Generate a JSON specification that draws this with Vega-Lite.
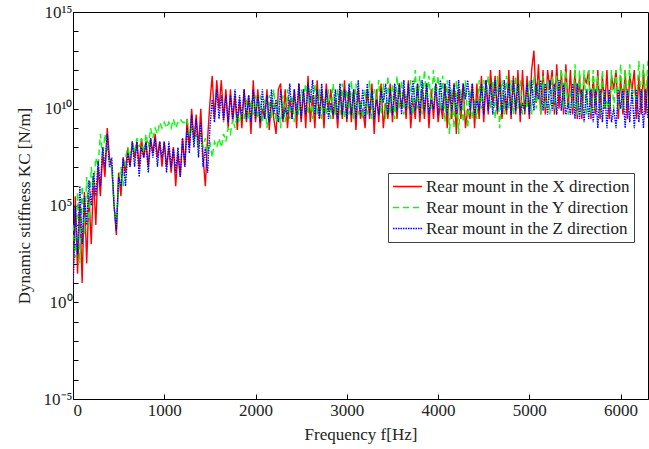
{
"$schema":"https://vega.github.io/schema/vega-lite/v6.json",
"width":575,"height":387,
"autosize":{"type":"none"},
"padding":{"left":73,"top":12,"right":1,"bottom":50},
"background":"white",
"config":{"view":{"stroke":"black","strokeWidth":1},"font":"Liberation Serif",
"axis":{"labelFont":"Liberation Serif","titleFont":"Liberation Serif","labelFontSize":17,"titleFontSize":17,"titleFontWeight":"normal","labelColor":"#222","titleColor":"#222","domainColor":"black","tickColor":"black","grid":false}},
"datasets":{"k":[
{"f":0,"X":1e1,"Y":1e4,"Z":3e0},{"f":25,"X":3e5,"Y":2e2,"Z":1e5},{"f":50,"X":3e1,"Y":5e5,"Z":3e2},{"f":75,"X":1e5,"Y":1e2,"Z":1e6},{"f":100,"X":1e1,"Y":1e6,"Z":1e3},{"f":125,"X":5e5,"Y":3e3,"Z":3e5},{"f":150,"X":1e2,"Y":3e6,"Z":1e4},{"f":175,"X":3e5,"Y":1e4,"Z":2e6},{"f":200,"X":1e3,"Y":1e7,"Z":1e5},{"f":225,"X":3e6,"Y":1e6,"Z":5e6},{"f":250,"X":1e4,"Y":3e7,"Z":3e5},{"f":275,"X":1e7,"Y":1e7,"Z":2e7},{"f":300,"X":3e5,"Y":5e8,"Z":1e6},{"f":325,"X":5e7,"Y":3e7,"Z":1e8},{"f":350,"X":3e6,"Y":5e8,"Z":1e7},{"f":375,"X":1e9,"Y":1e8,"Z":5e8},{"f":400,"X":3e7,"Y":1e7,"Z":1e7},{"f":425,"X":1e7,"Y":1e7,"Z":3e7},{"f":450,"X":1e5,"Y":1e5,"Z":1e5},{"f":475,"X":3e3,"Y":1e4,"Z":5e3},
{"f":500,"X":5e6,"Y":1e6,"Z":3e6},{"f":525,"X":3e5,"Y":1e7,"Z":1e6},{"f":550,"X":3e7,"Y":1e6,"Z":3e7},{"f":575,"X":5e6,"Y":3e7,"Z":1e6},{"f":600,"X":1e8,"Y":1e8,"Z":5e7},{"f":625,"X":1e7,"Y":3e7,"Z":1e7},{"f":650,"X":2e8,"Y":2e8,"Z":2e8},{"f":675,"X":3e7,"Y":5e7,"Z":1e7},{"f":700,"X":2e8,"Y":3e8,"Z":2e8},{"f":725,"X":1e7,"Y":1e8,"Z":3e6},{"f":750,"X":3e8,"Y":3e8,"Z":1e8},{"f":775,"X":3e7,"Y":5e7,"Z":3e7},{"f":800,"X":2e8,"Y":5e8,"Z":2e8},{"f":825,"X":1e7,"Y":1e8,"Z":5e6},{"f":850,"X":3e8,"Y":1e9,"Z":3e8},{"f":875,"X":5e7,"Y":3e8,"Z":3e7},{"f":900,"X":5e8,"Y":1e9,"Z":3e8},{"f":925,"X":3e7,"Y":5e8,"Z":1e7},{"f":950,"X":2e8,"Y":2e9,"Z":2e8},{"f":975,"X":1e7,"Y":1e9,"Z":3e7},
{"f":1000,"X":2e8,"Y":2e9,"Z":2e8},{"f":1025,"X":1e7,"Y":1e9,"Z":5e6},{"f":1050,"X":1e8,"Y":2e9,"Z":2e8},{"f":1075,"X":5e6,"Y":1e9,"Z":1e7},{"f":1100,"X":1e8,"Y":3e9,"Z":1e8},{"f":1125,"X":1e6,"Y":1e9,"Z":5e6},{"f":1150,"X":5e7,"Y":2e9,"Z":1e8},{"f":1175,"X":3e6,"Y":3e9,"Z":3e6},{"f":1200,"X":3e8,"Y":2e9,"Z":3e8},{"f":1225,"X":1e7,"Y":2e9,"Z":1e7},{"f":1250,"X":3e9,"Y":3e9,"Z":1e9},{"f":1275,"X":1e8,"Y":5e8,"Z":5e7},{"f":1300,"X":1e10,"Y":1e9,"Z":5e9},{"f":1325,"X":2e8,"Y":2e8,"Z":1e8},{"f":1350,"X":5e9,"Y":5e8,"Z":3e9},{"f":1375,"X":1e8,"Y":1e8,"Z":3e7},{"f":1400,"X":1e10,"Y":5e8,"Z":2e9},{"f":1425,"X":3e7,"Y":1e8,"Z":1e7},{"f":1450,"X":1e6,"Y":3e8,"Z":1e8},{"f":1475,"X":3e8,"Y":5e7,"Z":5e6},
{"f":1500,"X":2e10,"Y":2e8,"Z":1e9},{"f":1525,"X":5e11,"Y":3e7,"Z":3e10},{"f":1550,"X":3e9,"Y":2e8,"Z":2e9},{"f":1575,"X":3e11,"Y":1e8,"Z":1e11},{"f":1600,"X":1e10,"Y":3e8,"Z":3e9},{"f":1625,"X":3e11,"Y":1e8,"Z":5e10},{"f":1650,"X":3e9,"Y":5e8,"Z":2e9},{"f":1675,"X":1e11,"Y":2e8,"Z":5e10},{"f":1700,"X":1e9,"Y":1e9,"Z":2e9},{"f":1725,"X":1e11,"Y":5e8,"Z":5e10},{"f":1750,"X":2e9,"Y":3e9,"Z":3e9},{"f":1775,"X":5e10,"Y":1e9,"Z":1e11},{"f":1800,"X":8e8,"Y":5e9,"Z":2e9},{"f":1825,"X":3e10,"Y":2e9,"Z":5e10},{"f":1850,"X":1e9,"Y":1e10,"Z":3e9},{"f":1875,"X":1e11,"Y":3e9,"Z":1e11},{"f":1900,"X":2e9,"Y":3e10,"Z":3e9},{"f":1925,"X":5e10,"Y":3e9,"Z":5e10},{"f":1950,"X":5e8,"Y":3e10,"Z":2e9},{"f":1975,"X":3e11,"Y":5e9,"Z":1e11},
{"f":2000,"X":2e9,"Y":5e10,"Z":3e9},{"f":2025,"X":1e11,"Y":3e9,"Z":5e10},{"f":2050,"X":1e9,"Y":5e10,"Z":2e9},{"f":2075,"X":1e10,"Y":2e9,"Z":1e11},{"f":2100,"X":3e9,"Y":3e10,"Z":3e9},{"f":2125,"X":1e11,"Y":1e9,"Z":5e10},{"f":2150,"X":8e8,"Y":5e10,"Z":2e9},{"f":2175,"X":3e10,"Y":3e9,"Z":1e11},{"f":2200,"X":3e9,"Y":1e11,"Z":5e9},{"f":2225,"X":5e8,"Y":2e9,"Z":3e10},{"f":2250,"X":1e11,"Y":3e10,"Z":2e9},{"f":2275,"X":2e11,"Y":1e9,"Z":1e11},{"f":2300,"X":2e9,"Y":5e10,"Z":3e9},{"f":2325,"X":1e11,"Y":2e9,"Z":1e10},{"f":2350,"X":1e9,"Y":1e11,"Z":5e9},{"f":2375,"X":3e10,"Y":3e9,"Z":2e11},{"f":2400,"X":3e9,"Y":5e10,"Z":3e9},{"f":2425,"X":1e11,"Y":2e9,"Z":1e11},{"f":2450,"X":1e9,"Y":2e10,"Z":5e9},{"f":2475,"X":2e11,"Y":5e9,"Z":2e11},
{"f":2500,"X":2e9,"Y":1e11,"Z":3e9},{"f":2525,"X":1e11,"Y":3e10,"Z":1e11},{"f":2550,"X":1e9,"Y":2e11,"Z":5e9},{"f":2575,"X":5e11,"Y":5e9,"Z":2e11},{"f":2600,"X":2e9,"Y":1e11,"Z":2e10},{"f":2625,"X":5e10,"Y":3e9,"Z":3e11},{"f":2650,"X":1e9,"Y":2e11,"Z":5e9},{"f":2675,"X":3e11,"Y":5e9,"Z":1e11},{"f":2700,"X":3e9,"Y":1e11,"Z":3e9},{"f":2725,"X":1e11,"Y":3e9,"Z":2e11},{"f":2750,"X":1e9,"Y":3e10,"Z":5e9},{"f":2775,"X":2e11,"Y":5e9,"Z":1e11},{"f":2800,"X":8e9,"Y":1e11,"Z":3e9},{"f":2825,"X":1e11,"Y":3e9,"Z":2e10},{"f":2850,"X":3e9,"Y":2e11,"Z":5e9},{"f":2875,"X":3e10,"Y":5e9,"Z":1e11},{"f":2900,"X":1e9,"Y":1e11,"Z":3e9},{"f":2925,"X":1e11,"Y":5e9,"Z":2e11},{"f":2950,"X":3e9,"Y":2e11,"Z":5e9},{"f":2975,"X":3e11,"Y":3e9,"Z":1e11},
{"f":3000,"X":2e9,"Y":1e11,"Z":3e9},{"f":3025,"X":1e11,"Y":5e9,"Z":2e11},{"f":3050,"X":2e9,"Y":3e11,"Z":5e9},{"f":3075,"X":1e11,"Y":3e9,"Z":1e11},{"f":3100,"X":8e8,"Y":2e11,"Z":3e9},{"f":3125,"X":1e11,"Y":5e9,"Z":3e11},{"f":3150,"X":3e9,"Y":3e10,"Z":5e9},{"f":3175,"X":1e10,"Y":3e9,"Z":1e11},{"f":3200,"X":1e9,"Y":1e11,"Z":3e9},{"f":3225,"X":1e11,"Y":5e9,"Z":2e11},{"f":3250,"X":3e9,"Y":3e11,"Z":5e9},{"f":3275,"X":2e11,"Y":3e9,"Z":1e11},{"f":3300,"X":5e8,"Y":1e11,"Z":3e9},{"f":3325,"X":1e11,"Y":3e10,"Z":3e10},{"f":3350,"X":2e9,"Y":3e11,"Z":5e9},{"f":3375,"X":2e11,"Y":5e9,"Z":1e11},{"f":3400,"X":1e9,"Y":2e11,"Z":2e10},{"f":3425,"X":2e10,"Y":3e9,"Z":2e11},{"f":3450,"X":3e9,"Y":5e11,"Z":5e9},{"f":3475,"X":2e11,"Y":5e9,"Z":1e11},
{"f":3500,"X":2e9,"Y":2e11,"Z":5e9},{"f":3525,"X":1e11,"Y":3e9,"Z":2e11},{"f":3550,"X":3e9,"Y":5e11,"Z":8e9},{"f":3575,"X":2e11,"Y":1e10,"Z":2e11},{"f":3600,"X":1e10,"Y":3e11,"Z":5e9},{"f":3625,"X":1e11,"Y":5e9,"Z":3e11},{"f":3650,"X":3e9,"Y":5e10,"Z":8e9},{"f":3675,"X":3e11,"Y":1e10,"Z":2e11},{"f":3700,"X":1e9,"Y":3e11,"Z":5e9},{"f":3725,"X":3e10,"Y":5e9,"Z":3e11},{"f":3750,"X":3e9,"Y":1e12,"Z":8e9},{"f":3775,"X":2e11,"Y":1e10,"Z":2e11},{"f":3800,"X":2e9,"Y":5e11,"Z":5e9},{"f":3825,"X":1e11,"Y":5e9,"Z":3e11},{"f":3850,"X":3e9,"Y":1e12,"Z":8e9},{"f":3875,"X":2e11,"Y":3e10,"Z":2e11},{"f":3900,"X":1e9,"Y":5e11,"Z":5e9},{"f":3925,"X":1e11,"Y":1e10,"Z":3e10},{"f":3950,"X":3e9,"Y":1e12,"Z":1e10},{"f":3975,"X":2e11,"Y":3e10,"Z":2e11},
{"f":4000,"X":2e9,"Y":5e11,"Z":5e9},{"f":4025,"X":2e10,"Y":1e10,"Z":3e11},{"f":4050,"X":3e9,"Y":5e11,"Z":8e9},{"f":4075,"X":2e11,"Y":2e9,"Z":2e11},{"f":4100,"X":1e9,"Y":3e11,"Z":5e9},{"f":4125,"X":1e11,"Y":5e8,"Z":3e11},{"f":4150,"X":3e9,"Y":1e11,"Z":8e9},{"f":4175,"X":2e11,"Y":1e9,"Z":2e11},{"f":4200,"X":5e8,"Y":3e11,"Z":5e9},{"f":4225,"X":1e11,"Y":5e8,"Z":3e11},{"f":4250,"X":3e9,"Y":1e11,"Z":8e9},{"f":4275,"X":2e11,"Y":2e9,"Z":2e11},{"f":4300,"X":1e9,"Y":3e11,"Z":3e10},{"f":4325,"X":1e10,"Y":1e9,"Z":3e11},{"f":4350,"X":3e9,"Y":1e11,"Z":8e9},{"f":4375,"X":2e11,"Y":3e9,"Z":2e11},{"f":4400,"X":1e9,"Y":3e10,"Z":5e9},{"f":4425,"X":2e11,"Y":3e9,"Z":3e10},{"f":4450,"X":3e9,"Y":3e11,"Z":8e9},{"f":4475,"X":5e11,"Y":1e10,"Z":2e11},
{"f":4500,"X":2e9,"Y":3e11,"Z":5e9},{"f":4525,"X":3e11,"Y":5e10,"Z":3e11},{"f":4550,"X":5e9,"Y":5e11,"Z":8e9},{"f":4575,"X":1e12,"Y":1e10,"Z":2e11},{"f":4600,"X":2e10,"Y":3e11,"Z":5e9},{"f":4625,"X":5e11,"Y":3e9,"Z":3e11},{"f":4650,"X":5e9,"Y":5e11,"Z":8e9},{"f":4675,"X":1e12,"Y":1e9,"Z":2e11},{"f":4700,"X":3e9,"Y":3e11,"Z":5e9},{"f":4725,"X":5e10,"Y":5e9,"Z":3e11},{"f":4750,"X":5e9,"Y":5e11,"Z":8e9},{"f":4775,"X":1e12,"Y":1e10,"Z":2e11},{"f":4800,"X":3e9,"Y":3e11,"Z":5e9},{"f":4825,"X":5e11,"Y":5e9,"Z":3e11},{"f":4850,"X":5e9,"Y":5e11,"Z":8e9},{"f":4875,"X":1e12,"Y":1e10,"Z":2e11},{"f":4900,"X":2e9,"Y":3e11,"Z":5e9},{"f":4925,"X":1e12,"Y":5e9,"Z":2e10},{"f":4950,"X":5e9,"Y":5e10,"Z":8e9},{"f":4975,"X":5e11,"Y":1e10,"Z":2e11},
{"f":5000,"X":3e9,"Y":3e11,"Z":5e9},{"f":5025,"X":1e12,"Y":5e9,"Z":3e11},{"f":5050,"X":1e13,"Y":5e11,"Z":8e9},{"f":5075,"X":2e10,"Y":1e10,"Z":2e11},{"f":5100,"X":2e12,"Y":3e11,"Z":3e10},{"f":5125,"X":5e9,"Y":5e9,"Z":3e11},{"f":5150,"X":1e12,"Y":5e11,"Z":8e9},{"f":5175,"X":5e9,"Y":1e10,"Z":2e11},{"f":5200,"X":1e12,"Y":3e11,"Z":5e9},{"f":5225,"X":1e11,"Y":5e9,"Z":3e11},{"f":5250,"X":1e12,"Y":5e11,"Z":8e9},{"f":5275,"X":5e9,"Y":1e10,"Z":2e11},{"f":5300,"X":2e12,"Y":5e11,"Z":5e9},{"f":5325,"X":1e10,"Y":5e10,"Z":3e11},{"f":5350,"X":1e12,"Y":1e12,"Z":8e9},{"f":5375,"X":5e9,"Y":1e10,"Z":2e11},{"f":5400,"X":2e12,"Y":1e12,"Z":5e9},{"f":5425,"X":1e10,"Y":5e9,"Z":2e10},{"f":5450,"X":1e12,"Y":1e11,"Z":5e9},{"f":5475,"X":5e9,"Y":1e10,"Z":2e11},
{"f":5500,"X":1e12,"Y":2e12,"Z":3e9},{"f":5525,"X":3e9,"Y":5e9,"Z":2e11},{"f":5550,"X":5e11,"Y":1e12,"Z":3e9},{"f":5575,"X":3e9,"Y":5e9,"Z":1e11},{"f":5600,"X":5e11,"Y":1e12,"Z":2e9},{"f":5625,"X":2e11,"Y":5e9,"Z":1e11},{"f":5650,"X":1e12,"Y":1e12,"Z":3e9},{"f":5675,"X":3e9,"Y":5e9,"Z":1e11},{"f":5700,"X":5e11,"Y":1e12,"Z":2e9},{"f":5725,"X":5e9,"Y":1e10,"Z":1e11},{"f":5750,"X":1e12,"Y":5e11,"Z":1e9},{"f":5775,"X":3e9,"Y":5e9,"Z":1e11},{"f":5800,"X":5e11,"Y":1e12,"Z":2e9},{"f":5825,"X":1e10,"Y":1e10,"Z":1e11},{"f":5850,"X":1e12,"Y":3e10,"Z":1e9},{"f":5875,"X":3e9,"Y":1e10,"Z":1e11},{"f":5900,"X":5e11,"Y":1e12,"Z":2e9},{"f":5925,"X":1e11,"Y":1e10,"Z":1e10},{"f":5950,"X":1e12,"Y":1e12,"Z":1e9},{"f":5975,"X":3e9,"Y":1e10,"Z":1e11},
{"f":6000,"X":5e11,"Y":2e12,"Z":1e10},{"f":6025,"X":5e9,"Y":1e10,"Z":1e11},{"f":6050,"X":1e12,"Y":1e12,"Z":1e9},{"f":6075,"X":3e9,"Y":2e10,"Z":1e11},{"f":6100,"X":5e11,"Y":2e12,"Z":2e9},{"f":6125,"X":1e11,"Y":2e10,"Z":1e11},{"f":6150,"X":1e12,"Y":1e11,"Z":1e9},{"f":6175,"X":3e9,"Y":2e10,"Z":1e11},{"f":6200,"X":5e11,"Y":3e12,"Z":2e9},{"f":6225,"X":5e9,"Y":2e10,"Z":1e11},{"f":6250,"X":1e12,"Y":2e12,"Z":1e9},{"f":6275,"X":5e9,"Y":3e10,"Z":1e11},{"f":6300,"X":5e11,"Y":3e12,"Z":3e9}
]},
"layer":[
{"data":{"name":"k"},
"transform":[{"fold":["X","Y","Z"],"as":["dir","K"]}],
"mark":{"type":"line","clip":true,"strokeWidth":1.4},
"encoding":{
"x":{"field":"f","type":"quantitative","scale":{"domain":[0,6300],"nice":false,"zero":false},
"axis":{"orient":"bottom","values":[0,1000,2000,3000,4000,5000,6000],"format":"d","title":"Frequency f[Hz]","tickSize":-5,"labelPadding":8,"titlePadding":8,"labelFont":"Liberation Serif","titleFont":"Liberation Serif"}},
"y":{"field":"K","type":"quantitative","scale":{"type":"log","domain":[1e-5,1e15],"nice":false},
"axis":{"values":[1e-5,1e-4,1e-3,1e-2,1e-1,1,10,100,1000,1e4,1e5,1e6,1e7,1e8,1e9,1e10,1e11,1e12,1e13,1e14,1e15],
"labelExpr":"round(log(datum.value)/LN10)==15?'10¹⁵':round(log(datum.value)/LN10)==10?'10¹⁰':round(log(datum.value)/LN10)==5?'10⁵':round(log(datum.value)/LN10)==0?'10⁰':round(log(datum.value)/LN10)==-5?'10⁻⁵':''",
"tickSize":-5,"labelPadding":6,"title":"Dynamic stiffness KC [N/m]","titlePadding":10,"labelFont":"Liberation Serif","titleFont":"Liberation Serif"}},
"color":{"field":"dir","type":"nominal","scale":{"domain":["X","Y","Z"],"range":["#ff0000","#00ff00","#0000ff"]},
"legend":{"title":null,"orient":"none","legendX":315,"legendY":161,"labelExpr":"'Rear mount in the ' + datum.label + ' direction'","labelLimit":0,"clipHeight":19,"symbolType":"stroke","symbolSize":841,"symbolStrokeWidth":1.5,"labelFont":"Liberation Serif","labelFontSize":17,"labelColor":"#222","strokeColor":"#444","fillColor":"white","padding":4,"rowPadding":2,"labelOffset":3}},
"strokeDash":{"field":"dir","type":"nominal","scale":{"domain":["X","Y","Z"],"range":[[1,0],[6,4],[1.5,1]]},
"legend":{"title":null,"orient":"none","legendX":315,"legendY":161,"labelExpr":"'Rear mount in the ' + datum.label + ' direction'","labelLimit":0,"clipHeight":19,"symbolType":"stroke","symbolSize":841,"symbolStrokeWidth":1.5,"labelFont":"Liberation Serif","labelFontSize":17,"labelColor":"#222","strokeColor":"#444","fillColor":"white","padding":4,"rowPadding":2,"labelOffset":3}}
}},
{"data":{"values":[{"f":0},{"f":6300}]},
"mark":{"type":"point","opacity":0},
"encoding":{"x":{"field":"f","type":"quantitative","axis":{"orient":"top","labels":false,"title":null,"domain":false,"values":[1000,2000,3000,4000,5000,6000],"tickSize":-5}}}}
],
"resolve":{"axis":{"x":"independent"}}
}
